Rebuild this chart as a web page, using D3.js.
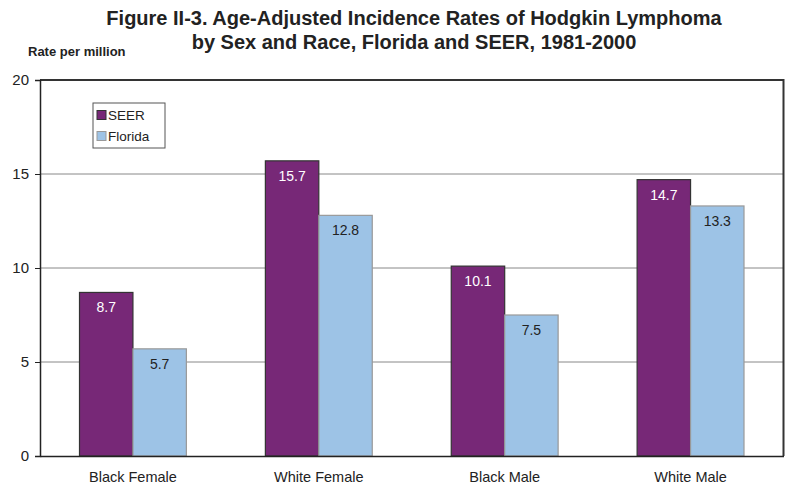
<!DOCTYPE html>
<html><head><meta charset="utf-8">
<script src="https://cdn.jsdelivr.net/npm/d3@7"></script>
<style>body{margin:0;background:#fff}svg{display:block;font-family:Arial,"Liberation Sans",sans-serif}</style>
</head><body><svg id="c" width="791" height="489"></svg>
<script>
const categories = ["Black Female","White Female","Black Male","White Male"];
const seriesNames = ["SEER","Florida"];
const seer = [8.7, 15.7, 10.1, 14.7];
const florida = [5.7, 12.8, 7.5, 13.3];
const yTicks = [0,5,10,15,20];

const svg = d3.select("#c");
const m = {l:40, r:7.5, t:80, b:33};
const W = 791, H = 489;
const FONT = "Arial, 'Liberation Sans', sans-serif";
const x = d3.scaleBand().domain(categories).range([m.l, W-m.r]).paddingInner(0.425).paddingOuter(0.2125);
const xs = d3.scaleBand().domain(seriesNames).range([0, x.bandwidth()]);
const y = d3.scaleLinear().domain([0,20]).range([H-m.b, m.t]);
const colors = {SEER:"#772877", Florida:"#9dc3e6"};
const strokes = {SEER:"#333", Florida:"#999"};

// gridlines
svg.append("g").selectAll("line").data([5,10,15]).join("line")
  .attr("x1", m.l).attr("x2", W-m.r).attr("y1", d=>y(d)).attr("y2", d=>y(d))
  .attr("stroke","#888").attr("stroke-width",1);

// frame top & right
svg.append("path").attr("d",`M${m.l},${y(20)}H${W-m.r}V${y(0)}`).attr("fill","none").attr("stroke","#333").attr("stroke-width",2);

// bars
const data = categories.map((c,i)=>({c, vals:[{s:"SEER",v:seer[i]},{s:"Florida",v:florida[i]}]}));
const g = svg.append("g").selectAll("g").data(data).join("g").attr("transform", d=>`translate(${x(d.c)},0)`);
g.selectAll("rect").data(d=>d.vals).join("rect")
  .attr("x", d=>xs(d.s)).attr("width", xs.bandwidth())
  .attr("y", d=>y(d.v)).attr("height", d=>y(0)-y(d.v))
  .attr("fill", d=>colors[d.s]).attr("stroke", d=>strokes[d.s]).attr("stroke-width",1.2);
g.selectAll("text").data(d=>d.vals).join("text")
  .attr("x", d=>xs(d.s)+xs.bandwidth()/2).attr("y", d=>y(d.v)+20)
  .attr("text-anchor","middle").attr("font-size",14)
  .attr("fill", d=>d.s==="SEER"?"#fff":"#222").text(d=>d.v.toFixed(1));

// y axis
const ya = svg.append("g").attr("transform",`translate(${m.l},0)`)
  .call(d3.axisLeft(y).tickValues(yTicks).tickSize(5).tickPadding(6));
ya.select(".domain").attr("stroke","#222").attr("stroke-width",1.5);
ya.selectAll(".tick line").attr("stroke","#222");
ya.selectAll("text").attr("font-size",15).attr("fill","#222").attr("font-family",FONT);

// x axis
const xa = svg.append("g").attr("transform",`translate(0,${y(0)})`)
  .call(d3.axisBottom(x).tickSize(0).tickPadding(16));
xa.select(".domain").attr("stroke","#222").attr("stroke-width",1.5);
xa.selectAll("text").attr("font-size",14.5).attr("fill","#222").attr("font-family",FONT);

// titles
const t = svg.append("text").attr("text-anchor","middle").attr("font-weight","bold").attr("font-size",20).attr("fill","#222");
t.append("tspan").attr("x",414).attr("y",25).text("Figure II-3. Age-Adjusted Incidence Rates of Hodgkin Lymphoma");
t.append("tspan").attr("x",414).attr("y",49).text("by Sex and Race, Florida and SEER, 1981-2000");
svg.append("text").attr("x",28).attr("y",56).attr("font-weight","bold").attr("font-size",13).attr("fill","#222").text("Rate per million");

// legend
const lg = svg.append("g").attr("transform","translate(93,103)");
lg.append("rect").attr("width",72).attr("height",45).attr("fill","#fff").attr("stroke","#555").attr("stroke-width",1);
seriesNames.forEach((s,i)=>{
  const cy = 12 + i*21;
  lg.append("rect").attr("x",4).attr("y",cy-4.5).attr("width",9).attr("height",9)
    .attr("fill",colors[s]).attr("stroke",strokes[s]);
  lg.append("text").attr("x",15).attr("y",cy+5).attr("font-size",13.5).attr("fill","#222").text(s);
});
</script></body></html>
